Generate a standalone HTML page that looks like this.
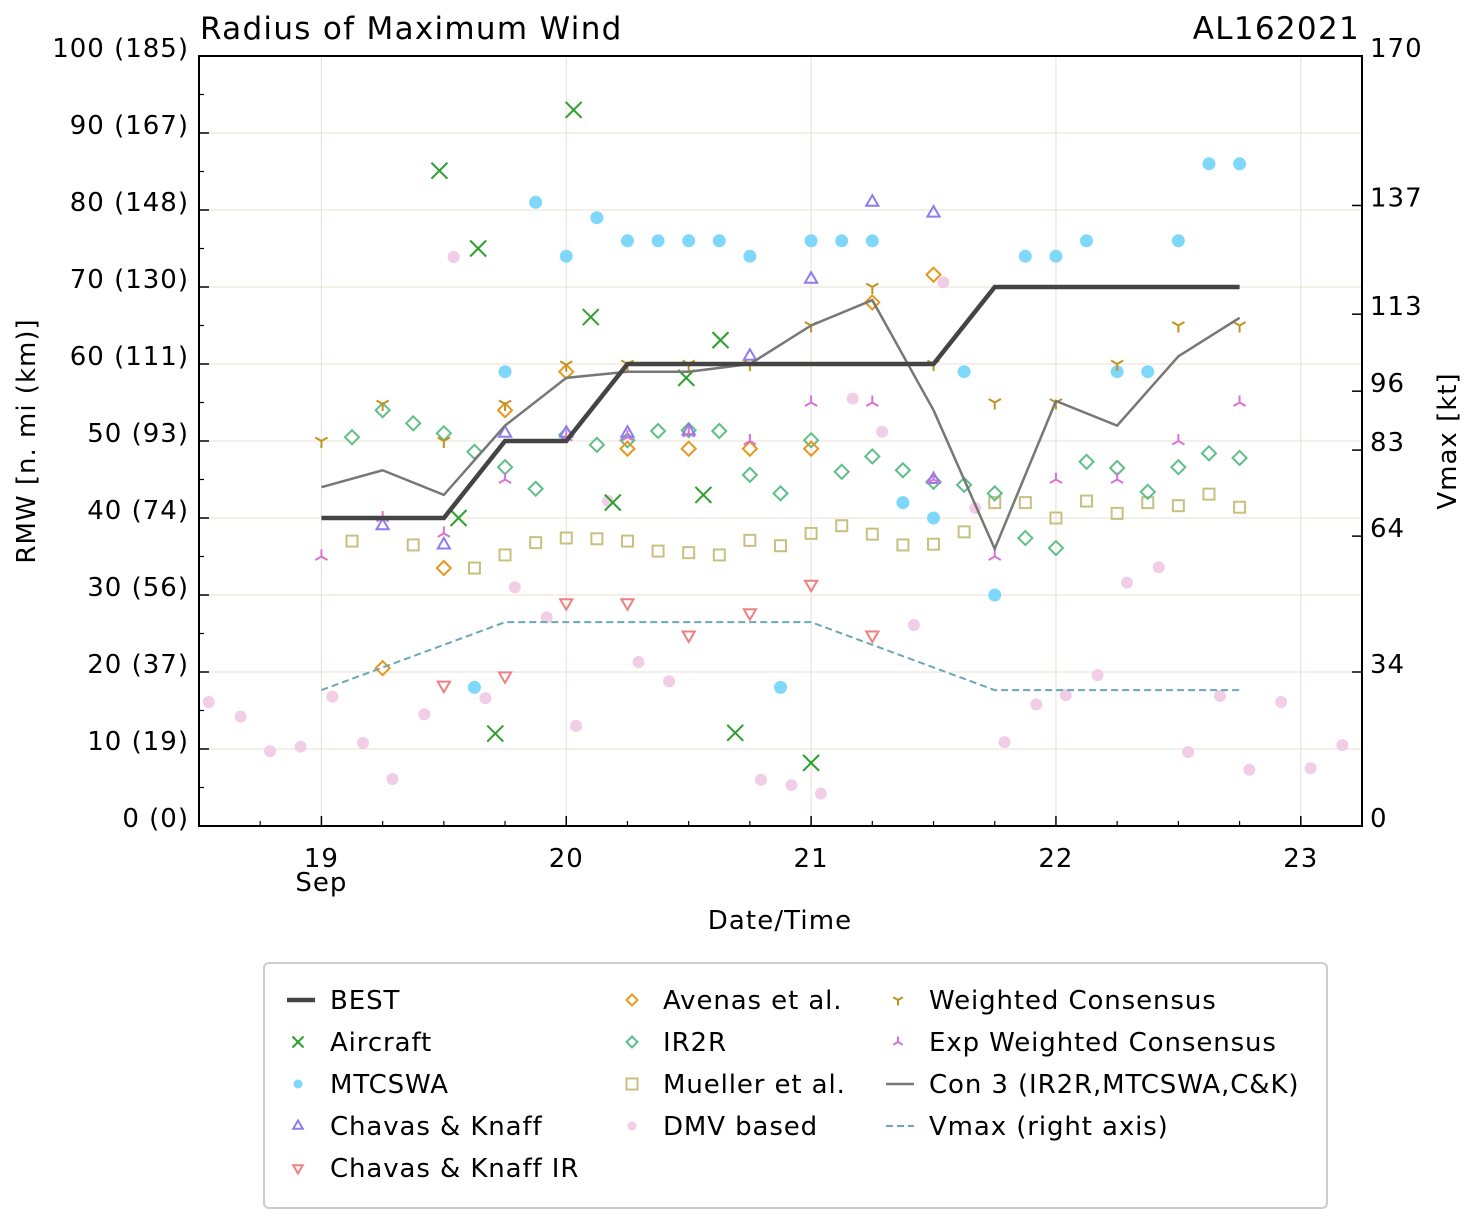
<!DOCTYPE html>
<html><head><meta charset="utf-8"><style>
body{margin:0;background:#fff}
svg{display:block;font-family:"DejaVu Sans","Liberation Sans",sans-serif}
</style></head><body>
<svg id="c" width="1477" height="1222" viewBox="0 0 1477 1222"></svg>
<script>
const bestT=[19,19.25,19.5,19.75,20,20.25,20.5,20.75,21,21.25,21.5,21.75,22,22.25,22.5,22.75];
const bestV=[40,40,40,50,50,60,60,60,60,60,60,70,70,70,70,70];
const vmaxV=[30,35,40,45,45,45,45,45,45,40,35,30,30,30,30,30];
const con3V=[44,46.2,43,52,58.2,59,59,60,65,68.3,54,36,55.2,52,61,66];
const acT=[19.482,19.64,19.56,19.71,20.03,20.10,20.19,20.49,20.63,20.56,20.69,21.0];
const acV=[85.1,75,40,12,93,66.1,42,58.2,63.1,43,12.1,8.2];
const mtT=[19.625,19.75,19.875,20,20.125,20.25,20.375,20.5,20.625,20.75,20.875,21,21.125,21.25,21.375,21.5,21.625,21.75,21.875,22,22.125,22.25,22.375,22.5,22.625,22.75];
const mtV=[18,59,81,74,79,76,76,76,76,74,18,76,76,76,42,40,59,30,74,74,76,59,59,76,86,86];
const ckT=[19.25,19.5,19.75,20,20.25,20.5,20.75,21,21.25,21.5,21.5];
const ckV=[39,36.5,51,51,51,51.3,61,71,81,79.6,45];
const ckirT=[19.5,19.75,20,20.25,20.5,20.75,21,21.25];
const ckirV=[18.3,19.5,29,29,24.8,27.7,31.4,24.8];
const avT=[19.25,19.5,19.75,20,20.25,20.5,20.75,21,21.25,21.5];
const avV=[20.5,33.5,54,59,49,49,49,49,68,71.6];
const irT=[19.125,19.25,19.375,19.5,19.625,19.75,19.875,20,20.125,20.25,20.375,20.5,20.625,20.75,20.875,21,21.125,21.25,21.375,21.5,21.625,21.75,21.875,22,22.125,22.25,22.375,22.5,22.625,22.75];
const irV=[50.5,54,52.3,51,48.6,46.6,43.8,50.8,49.5,50.1,51.3,51.4,51.3,45.6,43.2,50.1,46,48,46.2,44.7,44.3,43.2,37.4,36.1,47.3,46.5,43.4,46.6,48.4,47.8];
const muT=[19.125,19.375,19.625,19.75,19.875,20,20.125,20.25,20.375,20.5,20.625,20.75,20.875,21,21.125,21.25,21.375,21.5,21.625,21.75,21.875,22,22.125,22.25,22.375,22.5,22.625,22.75];
const muV=[37,36.5,33.5,35.2,36.8,37.4,37.3,37,35.7,35.5,35.2,37.1,36.4,38,39,37.9,36.5,36.6,38.2,42,42,40,42.2,40.6,42,41.6,43.1,41.4];
const dmT=[18.54,18.67,18.79,18.915,19.045,19.17,19.29,19.42,19.54,19.67,19.79,19.92,20.04,20.17,20.295,20.42,20.795,20.92,21.04,21.17,21.29,21.42,21.54,21.67,21.79,21.92,22.04,22.17,22.29,22.42,22.54,22.67,22.79,22.92,23.04,23.17];
const dmV=[16.1,14.2,9.7,10.3,16.8,10.8,6.1,14.5,73.9,16.6,31,27.1,13,42.2,21.3,18.8,6,5.3,4.2,55.5,51.2,26.1,70.6,41.3,10.9,15.8,17,19.6,31.6,33.6,9.6,16.9,7.3,16.1,7.5,10.5];
const wcV=[50,54.8,50,54.8,59.9,60,60,60,65,70,60,55,55,60,65,65];
const ewV=[35,40,38,45,50.5,50.5,51,50,55,55,45,35,45,45,50,55];
const leftTicks=[0,10,20,30,40,50,60,70,80,90,100];
const leftLabels=["0 (0)","10 (19)","20 (37)","30 (56)","40 (74)","50 (93)","60 (111)","70 (130)","80 (148)","90 (167)","100 (185)"];
const rightTicks=[0,34,64,83,96,113,137,170];
const xTicks=[19,20,21,22,23];

const L=199,R=1362,T=56,B=826;
const X=t=>L+(t-18.5)/(23.25-18.5)*(R-L);
const Y=v=>B-v/100*(B-T);
const YR=k=>B-k/170*(B-T);
const NS="http://www.w3.org/2000/svg";
const svg=document.getElementById('c');
function mk(tag,at,parent){const e=document.createElementNS(NS,tag);for(const k in at)e.setAttribute(k,at[k]);(parent||svg).appendChild(e);return e;}

for(const v of leftTicks){if(v>0&&v<100){const g=mk('line',{x1:L,x2:R,y1:Y(v),y2:Y(v),stroke:'#e6e0d2','stroke-width':1});}}
for(const t of xTicks){const g=mk('line',{x1:X(t),x2:X(t),y1:T,y2:B,stroke:'#e6e0d2','stroke-width':1});}

function polyline(ts,vs,yf,attrs,name){const p=mk('polyline',Object.assign({points:ts.map((t,i)=>X(t)+','+yf(vs[i])).join(' '),fill:'none'},attrs));return p;}

function marker(type,x,y,color,s,parent){
  const g=mk('g',{},parent);
  const sw=2;
  if(type==='x'){mk('path',{d:`M${x-s} ${y-s}L${x+s} ${y+s}M${x-s} ${y+s}L${x+s} ${y-s}`,stroke:color,'stroke-width':sw},g);}
  else if(type==='o'){mk('circle',{cx:x,cy:y,r:s,fill:color},g);}
  else if(type==='^'){mk('polygon',{points:`${x},${y-s} ${x-s*0.87},${y+s*0.5} ${x+s*0.87},${y+s*0.5}`,fill:'none',stroke:color,'stroke-width':sw},g);}
  else if(type==='v'){mk('polygon',{points:`${x},${y+s} ${x-s*0.87},${y-s*0.5} ${x+s*0.87},${y-s*0.5}`,fill:'none',stroke:color,'stroke-width':sw},g);}
  else if(type==='d'){mk('polygon',{points:`${x},${y-s} ${x+s},${y} ${x},${y+s} ${x-s},${y}`,fill:'none',stroke:color,'stroke-width':sw},g);}
  else if(type==='s'){mk('rect',{x:x-s,y:y-s,width:2*s,height:2*s,fill:'none',stroke:color,'stroke-width':sw},g);}
  else if(type==='1'){mk('path',{d:`M${x} ${y}L${x} ${y+s}M${x} ${y}L${x-s*0.87} ${y-s*0.5}M${x} ${y}L${x+s*0.87} ${y-s*0.5}`,stroke:color,'stroke-width':sw,fill:'none'},g);}
  else if(type==='2'){mk('path',{d:`M${x} ${y}L${x} ${y-s}M${x} ${y}L${x-s*0.87} ${y+s*0.5}M${x} ${y}L${x+s*0.87} ${y+s*0.5}`,stroke:color,'stroke-width':sw,fill:'none'},g);}
  return g;
}
function scatter(ts,vs,type,color,s,name){for(let i=0;i<ts.length;i++){const m=marker(type,X(ts[i]),Y(vs[i]),color,s);}}

const C={ac:'#2ca02c',mt:'#7fd8fb',ck:'#8d7cf0',ckir:'#ee8080',av:'#e8961c',ir:'#5fbf88',mu:'#c8c080',dm:'#f1cde6',wc:'#c29220',ew:'#da72d6',con:'#777777',vm:'#6aa8b8',best:'#444444'};

scatter(dmT,dmV,'o',C.dm,6,'dmv-point');
scatter(mtT,mtV,'o',C.mt,6.5,'mtcswa-point');
scatter(muT,muV,'s',C.mu,5.5,'mueller-point');
scatter(irT,irV,'d',C.ir,7,'ir2r-point');
scatter(ckT,ckV,'^',C.ck,7,'chavas-knaff-point');
scatter(ckirT,ckirV,'v',C.ckir,7,'chavas-knaff-ir-point');
scatter(avT,avV,'d',C.av,7,'avenas-point');
scatter(acT,acV,'x',C.ac,8,'aircraft-point');
scatter(bestT,wcV,'1',C.wc,7,'weighted-consensus-point');
scatter(bestT,ewV,'2',C.ew,7,'exp-weighted-consensus-point');
polyline(bestT,con3V,Y,{stroke:C.con,'stroke-width':2.5},'con3-line');
polyline(bestT,vmaxV,YR,{stroke:C.vm,'stroke-width':2,'stroke-dasharray':'7,4'},'vmax-line');
polyline(bestT,bestV,Y,{stroke:C.best,'stroke-width':4.5},'best-track-line');

const fr=mk('rect',{x:L,y:T,width:R-L,height:B-T,fill:'none',stroke:'#000','stroke-width':2});


function txt(x,y,s,size,anchor,name,extra){const e=mk('text',Object.assign({x:x,y:y,'font-size':size,'text-anchor':anchor||'start',fill:'#000'},extra||{}));e.textContent=s;return e;}
const LS={'letter-spacing':'1'};

leftTicks.forEach((v,i)=>{mk('line',{x1:L,x2:L+10,y1:Y(v),y2:Y(v),stroke:'#000','stroke-width':1.5});txt(189,Y(v)+1,leftLabels[i],26,'end','y-tick-label',LS);});
for(let v=5;v<100;v+=10){mk('line',{x1:L,x2:L+5,y1:Y(v),y2:Y(v),stroke:'#000','stroke-width':1.2});}
rightTicks.forEach(k=>{mk('line',{x1:R-10,x2:R,y1:YR(k),y2:YR(k),stroke:'#000','stroke-width':1.5});txt(1370,YR(k)+1,String(k),26,'start','y2-tick-label',LS);});
xTicks.forEach(t=>{mk('line',{x1:X(t),x2:X(t),y1:B,y2:B-10,stroke:'#000','stroke-width':1.5});txt(X(t),867,String(t),26,'middle','x-tick-label',LS);});
for(let t=18.75;t<23.25;t+=0.25){if(Math.abs(t-Math.round(t))>0.01){mk('line',{x1:X(t),x2:X(t),y1:B,y2:B-5,stroke:'#000','stroke-width':1.2});}}
txt(X(19),891,'Sep',26,'middle','x-month-label',LS);
txt(780,929,'Date/Time',26,'middle','x-axis-title',{'letter-spacing':'1.1'});
txt(0,0,'RMW [n. mi (km)]',26,'middle','y-axis-title',{transform:'translate(35,441) rotate(-90)','letter-spacing':'1'});
txt(0,0,'Vmax [kt]',26,'middle','y2-axis-title',{transform:'translate(1456,441) rotate(-90)','letter-spacing':'1'});
txt(200,39,'Radius of Maximum Wind',31,'start','chart-title',{'letter-spacing':'1.3'});
txt(1360,39,'AL162021',31,'end','storm-id',{'letter-spacing':'1.3'});

const lg=mk('g',{});
mk('rect',{x:264,y:963,width:1063,height:245,rx:5,fill:'#fff',stroke:'#ccc','stroke-width':2},lg);
const entries=[
 ['line',C.best,'BEST',287,1000],['x',C.ac,'Aircraft',287,1042],['o',C.mt,'MTCSWA',287,1084],['^',C.ck,'Chavas & Knaff',287,1126],['v',C.ckir,'Chavas & Knaff IR',287,1168],
 ['d',C.av,'Avenas et al.',632,1000],['d',C.ir,'IR2R',632,1042],['s',C.mu,'Mueller et al.',632,1084],['o',C.dm,'DMV based',632,1126],
 ['1',C.wc,'Weighted Consensus',898,1000],['2',C.ew,'Exp Weighted Consensus',898,1042],['con',C.con,'Con 3 (IR2R,MTCSWA,C&K)',898,1084],['dash',C.vm,'Vmax (right axis)',898,1126]];
entries.forEach(e=>{
 const [ty,col,lab,x,y]=e;const g=mk('g',{},lg);
 
 if(ty==='line')mk('line',{x1:x,x2:x+28,y1:y,y2:y,stroke:col,'stroke-width':4.5},g);
 else if(ty==='con')mk('line',{x1:x-12,x2:x+16,y1:y,y2:y,stroke:col,'stroke-width':2.5},g);
 else if(ty==='dash')mk('line',{x1:x-12,x2:x+16,y1:y,y2:y,stroke:col,'stroke-width':2,'stroke-dasharray':'7,4'},g);
 else marker(ty,x+(x===287?11:0),y,col,ty==='o'?4.5:5.5,g);
 const t=mk('text',{x:x+(x===287?43:31),y:y+9,'font-size':26,'letter-spacing':'0.9',fill:'#000'},g);t.textContent=lab;
});
</script>
</body></html>
